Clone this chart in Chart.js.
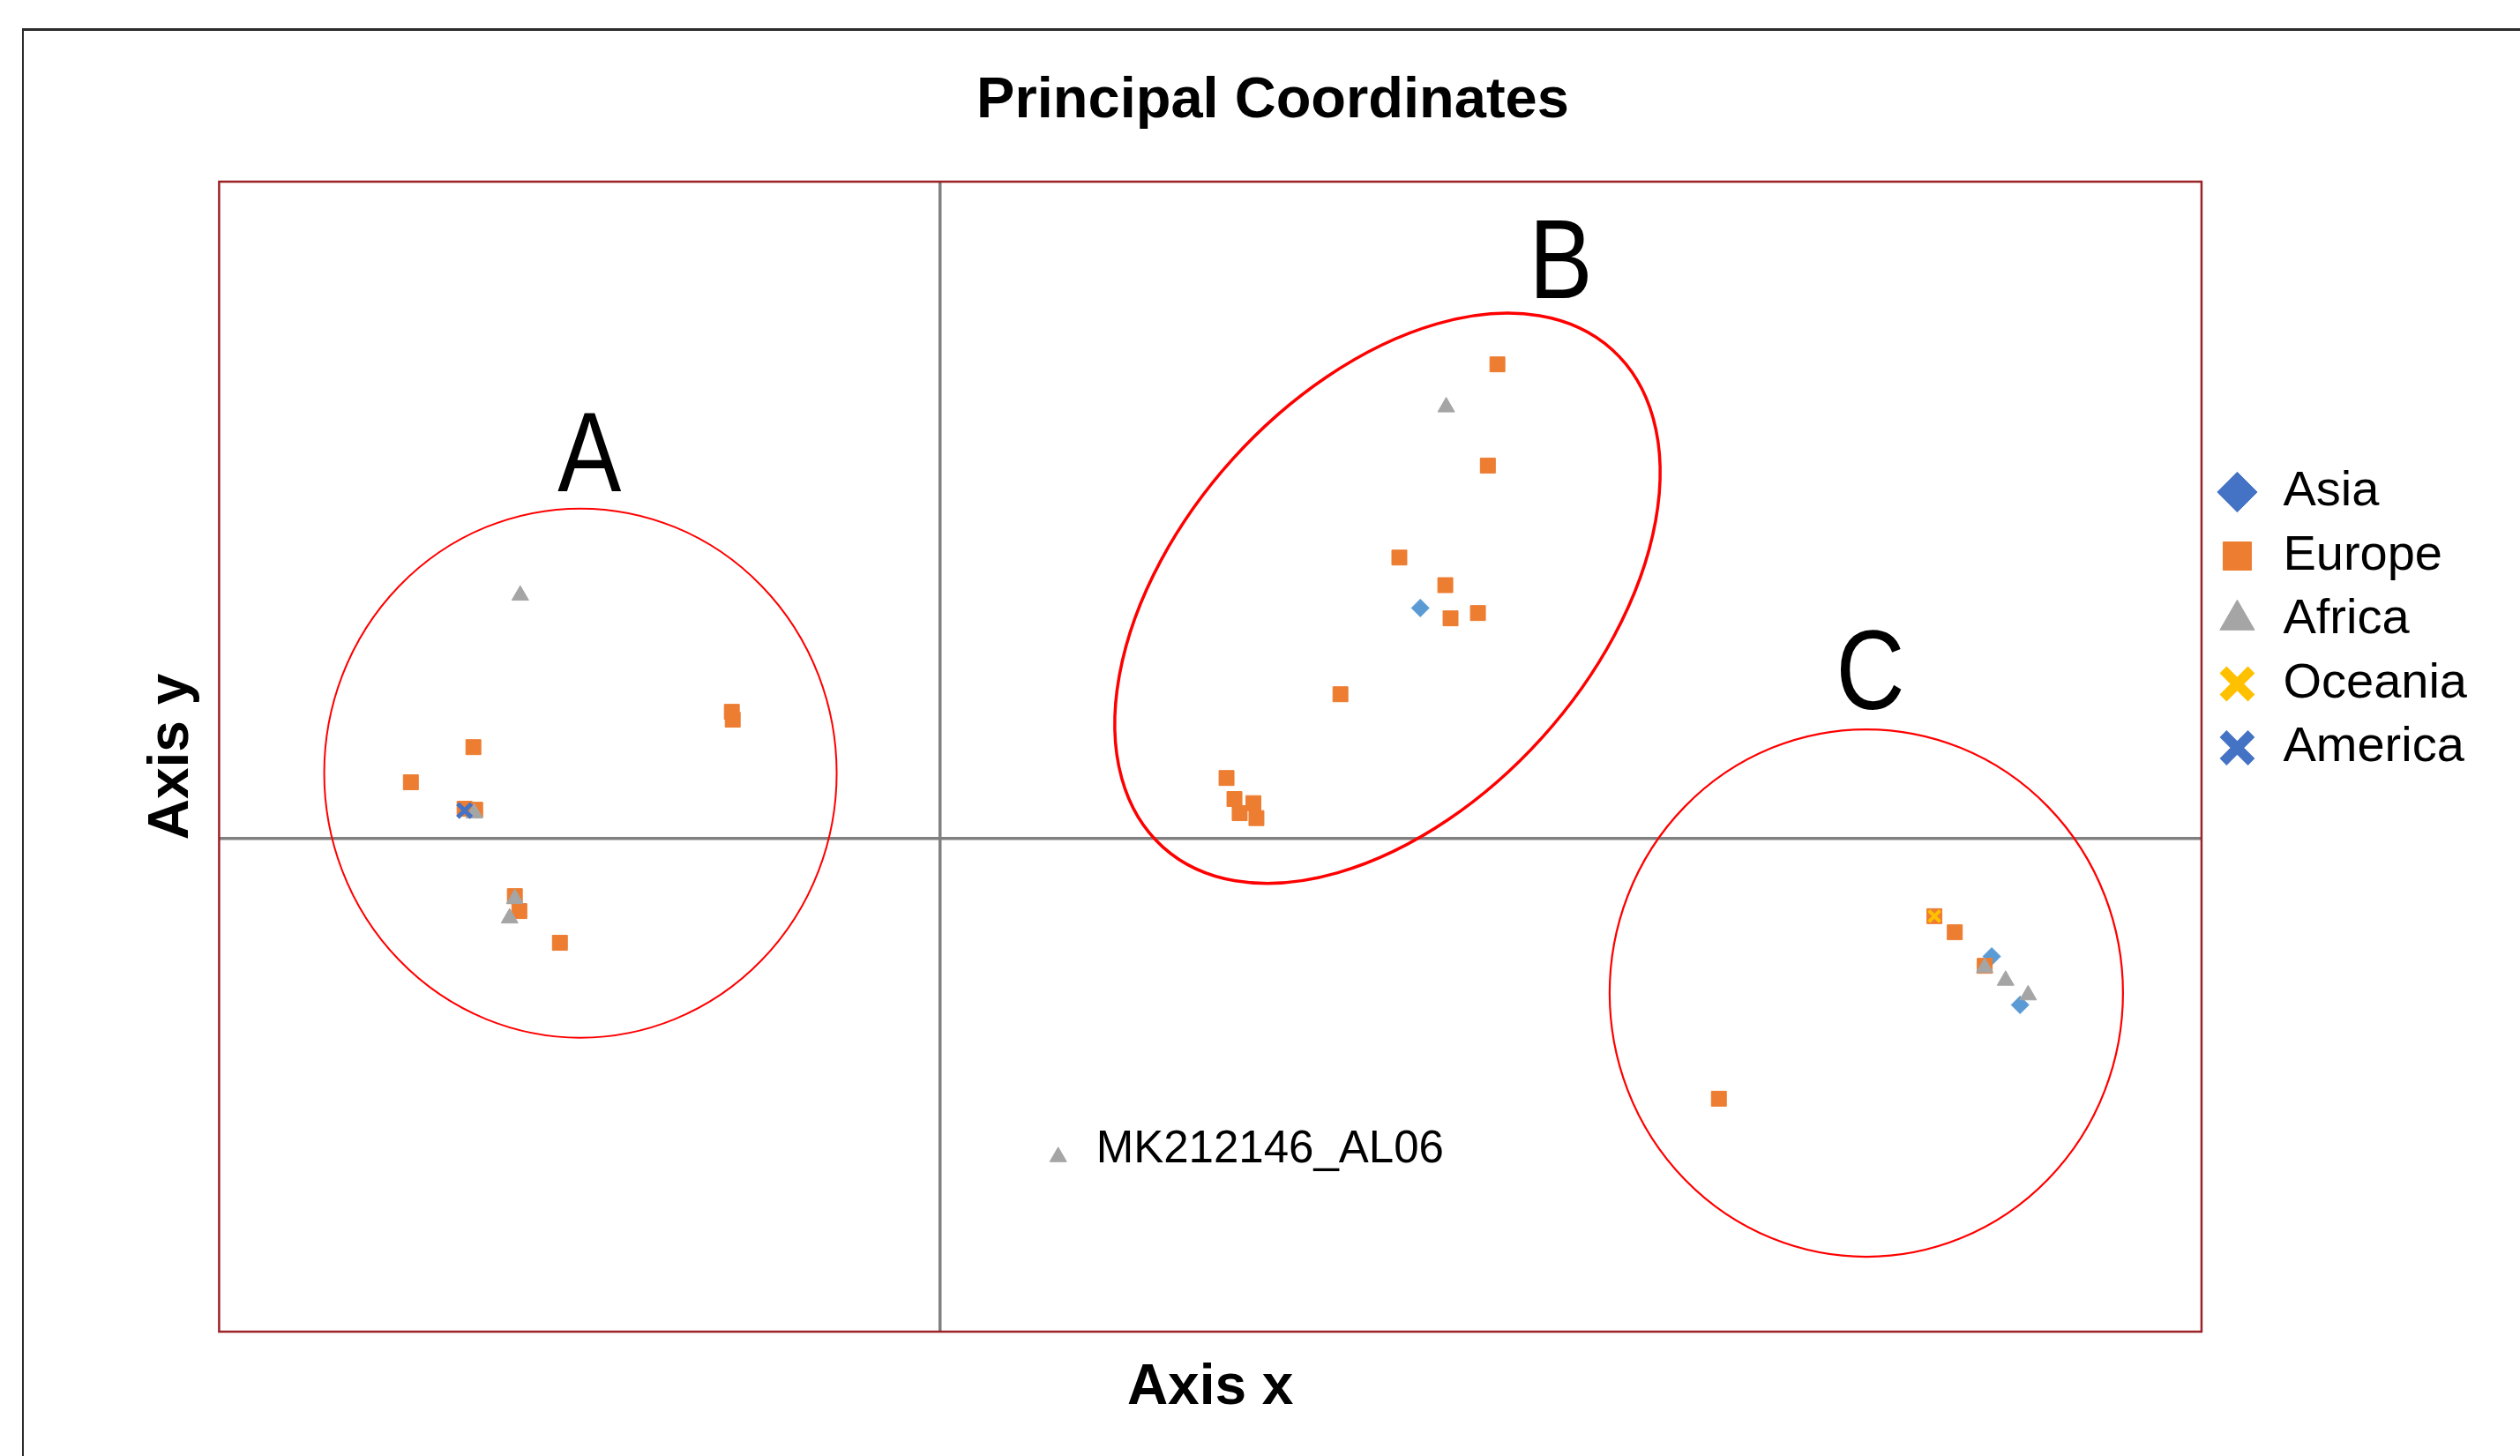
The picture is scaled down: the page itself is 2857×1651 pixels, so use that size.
<!DOCTYPE html>
<html><head><meta charset="utf-8">
<script src="https://cdn.jsdelivr.net/npm/chart.js@4"></script>
<style>
html,body{margin:0;padding:0;background:#fff;overflow:hidden;}
#wrap{position:relative;width:2857px;height:1651px;overflow:hidden;}
#frame{position:absolute;left:25px;top:32px;width:3000px;height:2000px;border-left:2px solid #2b2b2b;border-top:3px solid #2b2b2b;box-sizing:border-box;}
canvas{position:absolute;left:0;top:0;}
</style></head>
<body><div id="wrap"><div id="frame"></div><canvas id="c" width="2857" height="1651"></canvas></div>
<script>
// ---- data ----
const seriesNames = ['Asia', 'Europe', 'Africa', 'Oceania', 'America'];

const asiaX = [0.2665, 0.5836, 0.5993];
const asiaY = [0.1405, -0.0716, -0.1011];

const europeX = [-0.1155, -0.1150, -0.2589, -0.2936, -0.2638, -0.2579, -0.2359, -0.2334, -0.2109,
                 0.3093, 0.3040, 0.2549, 0.2804, 0.2985, 0.2833, 0.2222, 0.1590, 0.1634, 0.1739, 0.1663, 0.1756,
                 0.5518, 0.5631, 0.5797, 0.4322];
const europeY = [0.0773, 0.0725, 0.0558, 0.0344, 0.0183, 0.0177, -0.0349, -0.0440, -0.0633,
                 0.2888, 0.2272, 0.1712, 0.1544, 0.1374, 0.1342, 0.0880, 0.0370, 0.0242, 0.0217, 0.0156, 0.0126,
                 -0.0471, -0.0569, -0.0773, -0.1582];

const africaX = [-0.2329, -0.2584, -0.2359, -0.2388, 0.2809, 0.5797, 0.5913, 0.6038, 0.0656];
const africaY = [0.1482, 0.0156, -0.0365, -0.0483, 0.2628, -0.0784, -0.0862, -0.0951, -0.1936];
const africaLabels = ['', '', '', '', '', '', '', '', 'MK212146_AL06'];

const oceaniaX = [0.5518];
const oceaniaY = [-0.0471];

const americaX = [-0.2638];
const americaY = [0.0172];

const xBounds = [-0.4, 0.7];
const yBounds = [-0.3, 0.4];

const groupLetters = ['A', 'B', 'C'];
const groupLetterX = [-0.1945, 0.3445, 0.5162];
const groupLetterY = [0.2303, 0.3481, 0.0976];

// ---- styling / annotation geometry ----
const FONT = "'Liberation Sans', Arial, sans-serif";
const ellipses = [
  {cx: -0.1995, cy: 0.0400, rx: 290.5, ry: 300, rot: 0, lw: 2},
  {cx: 0.2483, cy: 0.1464, rx: 380, ry: 236, rot: -47.9, lw: 3.5},
  {cx: 0.5140, cy: -0.0939, rx: 291, ry: 299, rot: 0, lw: 2.2}
];

const zip = (xs, ys) => xs.map((v, i) => ({x: v, y: ys[i]}));

const datasets = [
  {label: seriesNames[0], data: zip(asiaX, asiaY), pointStyle: 'rectRot', pointRadius: 10,
   backgroundColor: '#5B9BD5', borderColor: '#5B9BD5', borderWidth: 1, order: 5, legendColor: '#4472C4'},
  {label: seriesNames[1], data: zip(europeX, europeY), pointStyle: 'rect', pointRadius: 12,
   backgroundColor: '#ED7D31', borderColor: '#ED7D31', borderWidth: 1, order: 4},
  {label: seriesNames[2], data: zip(africaX, africaY), pointStyle: 'triangle', pointRadius: 11,
   backgroundColor: '#A5A5A5', borderColor: '#A5A5A5', borderWidth: 1, order: 3, pointLabels: africaLabels},
  {label: seriesNames[3], data: zip(oceaniaX, oceaniaY), pointStyle: 'crossRot', pointRadius: 9,
   backgroundColor: '#FFC000', borderColor: '#FFC000', borderWidth: 4, order: 2, legendLineWidth: 11},
  {label: seriesNames[4], data: zip(americaX, americaY), pointStyle: 'crossRot', pointRadius: 11,
   backgroundColor: '#4472C4', borderColor: '#4472C4', borderWidth: 5, order: 1, legendLineWidth: 11}
];
datasets.forEach(d => { d.pointHoverRadius = d.pointRadius; });

const annot = {
  id: 'annot',
  beforeDatasetsDraw(chart) {
    const {ctx, chartArea: ca, scales: {x, y}} = chart;
    ctx.save();
    ellipses.forEach(e => {
      ctx.beginPath();
      ctx.ellipse(x.getPixelForValue(e.cx), y.getPixelForValue(e.cy), e.rx, e.ry, e.rot * Math.PI / 180, 0, 2 * Math.PI);
      ctx.strokeStyle = '#FF0000';
      ctx.lineWidth = e.lw;
      ctx.stroke();
    });
    ctx.fillStyle = '#000';
    ctx.font = '108px ' + FONT;
    ctx.textAlign = 'center';
    ctx.textBaseline = 'middle';
    groupLetters.forEach((t, i) => {
      ctx.save();
      ctx.translate(x.getPixelForValue(groupLetterX[i]), y.getPixelForValue(groupLetterY[i]));
      ctx.scale(1, 1.18);
      ctx.fillText(t, 0, 0);
      ctx.restore();
    });
    ctx.strokeStyle = '#9B2226';
    ctx.lineWidth = 2.5;
    ctx.strokeRect(ca.left, ca.top, ca.right - ca.left, ca.bottom - ca.top);
    ctx.restore();
  },
  afterDatasetsDraw(chart) {
    const {ctx} = chart;
    ctx.save();
    ctx.fillStyle = '#000';
    ctx.font = '51px ' + FONT;
    ctx.textAlign = 'left';
    ctx.textBaseline = 'middle';
    chart.data.datasets.forEach((ds, di) => {
      if (!ds.pointLabels) return;
      const meta = chart.getDatasetMeta(di);
      ds.pointLabels.forEach((lab, j) => {
        if (!lab) return;
        const el = meta.data[j];
        ctx.fillText(lab, el.x + 43, el.y - 8);
      });
    });
    ctx.restore();
  }
};

const zeroColor = c => (c.tick && Math.abs(c.tick.value) < 1e-9) ? '#808080' : 'rgba(0,0,0,0)';

new Chart(document.getElementById('c'), {
  type: 'scatter',
  data: {datasets},
  plugins: [annot],
  options: {
    responsive: false,
    animation: false,
    devicePixelRatio: 1,
    events: [],
    layout: {padding: {left: 79, right: 50, top: 0, bottom: 0}},
    plugins: {
      title: {display: true, text: 'Principal Coordinates', color: '#000',
              font: {family: FONT, size: 65, weight: 'bold', lineHeight: 1.2},
              padding: {top: 76, bottom: 52}},
      legend: {
        position: 'right', align: 'start', fullSize: false,
        title: {display: true, text: '', font: {size: 10, lineHeight: 1.2}, padding: {top: 295.5, bottom: 0}},
        labels: {
          usePointStyle: true, boxWidth: 48, boxHeight: 32, padding: 16.5, color: '#000',
          font: {family: FONT, size: 56},
          sort: (a, b) => a.datasetIndex - b.datasetIndex,
          generateLabels(chart) {
            const items = Chart.defaults.plugins.legend.labels.generateLabels(chart);
            items.forEach(it => {
              const ds = chart.data.datasets[it.datasetIndex];
              if (ds.legendColor) { it.fillStyle = ds.legendColor; it.strokeStyle = ds.legendColor; }
              if (ds.legendLineWidth) it.lineWidth = ds.legendLineWidth;
            });
            return items;
          }
        }
      },
      tooltip: {enabled: false}
    },
    scales: {
      x: {
        type: 'linear', min: xBounds[0], max: xBounds[1],
        ticks: {display: false, stepSize: 0.1},
        grid: {drawTicks: false, color: zeroColor, lineWidth: 3.5},
        border: {display: false},
        title: {display: true, text: 'Axis x', color: '#000',
                font: {family: FONT, size: 64, weight: 'bold', lineHeight: 1.2},
                padding: {top: 25.6, bottom: 38.6}}
      },
      y: {
        type: 'linear', min: yBounds[0], max: yBounds[1],
        ticks: {display: false, stepSize: 0.1},
        grid: {drawTicks: false, color: zeroColor, lineWidth: 3.5},
        border: {display: false},
        title: {display: true, text: 'Axis y', color: '#000',
                font: {family: FONT, size: 64, weight: 'bold', lineHeight: 1.2},
                padding: {top: 77.6, bottom: 15}}
      }
    }
  }
});
</script>
</body></html>
